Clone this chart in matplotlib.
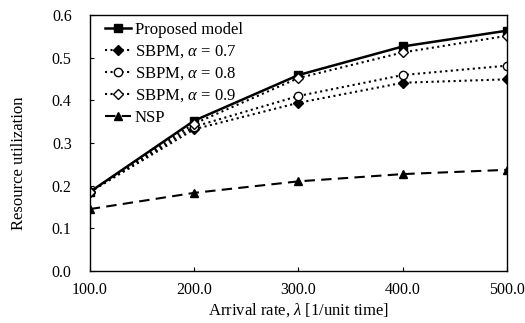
import numpy as np
import matplotlib
matplotlib.use('Agg')
import matplotlib.pyplot as plt

plt.rcParams['font.family'] = ['Liberation Serif', 'DejaVu Serif']
plt.rcParams['mathtext.fontset'] = 'custom'
plt.rcParams['mathtext.it'] = 'Liberation Serif:italic'
plt.rcParams['mathtext.rm'] = 'Liberation Serif'

rate = [100, 200, 300, 400, 500]
proposed = [0.185, 0.352, 0.459, 0.526, 0.563]
sbpm_07 = [0.185, 0.332, 0.394, 0.441, 0.449]
sbpm_08 = [0.185, 0.338, 0.410, 0.459, 0.481]
sbpm_09 = [0.185, 0.345, 0.452, 0.512, 0.551]
nsp = [0.145, 0.183, 0.210, 0.227, 0.237]

fig = plt.figure(figsize=(5.25, 3.23), dpi=100)
ax = fig.add_axes([0.171, 0.161, 0.795, 0.793])

ax.plot(rate, proposed, '-', color='black', lw=1.8, marker='s', ms=6,
        label='Proposed model')
ax.plot(rate, sbpm_07, ':', color='black', lw=1.5, marker='D', ms=5,
        label=r'SBPM, $\alpha$ = 0.7')
ax.plot(rate, sbpm_08, ':', color='black', lw=1.5, marker='o', ms=6,
        mfc='white', label=r'SBPM, $\alpha$ = 0.8')
ax.plot(rate, sbpm_09, ':', color='black', lw=1.5, marker='D', ms=5,
        mfc='white', label=r'SBPM, $\alpha$ = 0.9')
ax.plot(rate, nsp, '--', color='black', lw=1.5, marker='^', ms=6,
        dashes=(5, 3), label='NSP')

ax.set_xlim(100, 500)
ax.set_ylim(0, 0.6)
ax.set_xticks(rate)
ax.set_xticklabels(['%.1f' % r for r in rate])
ax.set_yticks(np.arange(0, 0.61, 0.1))
ax.set_yticklabels(['%.1f' % v for v in np.arange(0, 0.61, 0.1)])
ax.tick_params(direction='in', labelsize=11.5, length=3)
ax.tick_params(axis='y', pad=13)
ax.tick_params(axis='x', pad=8)
for s in ax.spines.values():
    s.set_linewidth(1.0)

ax.set_xlabel(r'Arrival rate, $\lambda$ [1/unit time]', fontsize=12, labelpad=2)
ax.set_ylabel('Resource utilization', fontsize=12)
ax.yaxis.set_label_coords(-0.151, 0.42)

ax.legend(loc='upper left', frameon=False, fontsize=12, handlelength=1.6,
          handletextpad=0.2, labelspacing=0.33, borderaxespad=0.0,
          bbox_to_anchor=(0.02, 1.0))

fig.savefig('out.png', dpi=100)
